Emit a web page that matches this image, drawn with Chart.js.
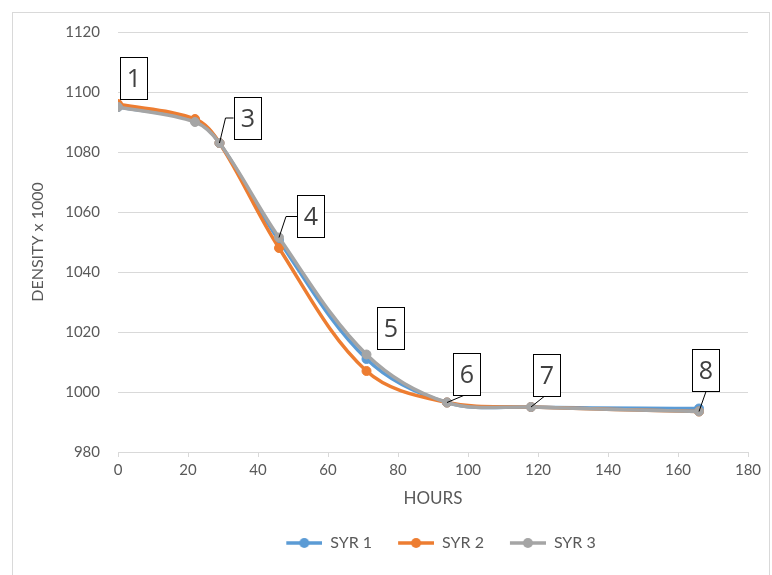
<!DOCTYPE html>
<html>
<head>
<meta charset="utf-8">
<script src="https://cdn.jsdelivr.net/npm/chart.js@4.4.0/dist/chart.umd.min.js"></script>
<style>
  html, body { margin: 0; padding: 0; background: #fff; }
  #wrap { width: 772px; height: 575px; }
</style>
</head>
<body>
<div id="wrap"><canvas id="densityChart" width="772" height="575"></canvas></div>
<script>
// readings
const hours = [0, 22, 29, 46, 71, 94, 118, 166];
const syr1 = [1095, 1090.5, 1083, 1050.5, 1011, 996.5, 995, 994.5];
const syr2 = [1096, 1091, 1083, 1048, 1007, 996.5, 995, 993.5];
const syr3 = [1095, 1090, 1083, 1051.5, 1012.5, 996.5, 995, 993.5];
const seriesNames = ['SYR 1', 'SYR 2', 'SYR 3'];
const xTicks = [0, 20, 40, 60, 80, 100, 120, 140, 160, 180];
const yTicks = [980, 1000, 1020, 1040, 1060, 1080, 1100, 1120];
const calloutText = ['1', '3', '4', '5', '6', '7', '8'];
const calloutIndex = [0, 2, 3, 4, 5, 6, 7];

const colors = ['#5B9BD5', '#ED7D31', '#A5A5A5'];
const textColor = '#595959';

// callout boxes, offsets from the marked point (px)
const calloutLayout = [
    { dx: 2, dy: -50, leader: null },
    { dx: 14, dy: -46, leader: [[0, 0], [6, -25], [14, -25]] },
    { dx: 18, dy: -43, leader: [[0, 0], [7, -21], [18, -21]] },
    { dx: 10, dy: -48, leader: null },
    { dx: 6, dy: -50, leader: [[0, 0], [19, -8]] },
    { dx: 2, dy: -53, leader: [[0, 0], [15, -12]] },
    { dx: -7, dy: -63, leader: [[0, 0], [7, -20]] }
];

function legendIcon(color) {
    const c = document.createElement('canvas');
    c.width = 52;
    c.height = 12;
    const g = c.getContext('2d');
    g.strokeStyle = color;
    g.lineWidth = 3.5;
    g.beginPath();
    g.moveTo(16, 6);
    g.lineTo(52, 6);
    g.stroke();
    g.fillStyle = color;
    g.beginPath();
    g.arc(34, 6, 5, 0, Math.PI * 2);
    g.fill();
    return c;
}

const toPoints = ys => hours.map((h, i) => ({ x: h, y: ys[i] }));

const frame = {
    id: 'frame',
    beforeDraw(chart) {
        const ctx = chart.ctx;
        ctx.save();
        ctx.fillStyle = '#fff';
        ctx.fillRect(0, 0, chart.width, chart.height);
        ctx.strokeStyle = '#d9d9d9';
        ctx.lineWidth = 1;
        ctx.strokeRect(12.5, 12.5, 757, 600);
        ctx.restore();
    }
};

const callouts = {
    id: 'callouts',
    afterDatasetsDraw(chart) {
        const ctx = chart.ctx;
        const xs = chart.scales.x, ys = chart.scales.y;
        ctx.save();
        calloutIndex.forEach((idx, k) => {
            const px = xs.getPixelForValue(hours[idx]);
            const py = ys.getPixelForValue(syr3[idx]);
            const lay = calloutLayout[k];
            ctx.strokeStyle = '#000';
            ctx.lineWidth = 1;
            if (lay.leader) {
                ctx.beginPath();
                lay.leader.forEach(([a, b], j) => {
                    if (j === 0) ctx.moveTo(px + a, py + b);
                    else ctx.lineTo(px + a, py + b);
                });
                ctx.stroke();
            }
            const bx = Math.round(px + lay.dx) + 0.5;
            const by = Math.round(py + lay.dy) + 0.5;
            ctx.fillStyle = '#fff';
            ctx.fillRect(bx, by, 27, 42);
            ctx.strokeRect(bx, by, 27, 42);
            ctx.fillStyle = '#404040';
            ctx.font = '25px "Open Sans", sans-serif';
            ctx.textAlign = 'center';
            ctx.textBaseline = 'middle';
            ctx.fillText(calloutText[k], bx + 13.5, by + 22);
        });
        ctx.restore();
    }
};

new Chart(document.getElementById('densityChart'), {
    type: 'line',
    data: {
        datasets: [syr1, syr2, syr3].map((ys, i) => ({
            label: seriesNames[i],
            data: toPoints(ys),
            borderColor: colors[i],
            backgroundColor: colors[i],
            pointBackgroundColor: colors[i],
            pointBorderColor: colors[i],
            pointStyle: 'circle',
            pointRadius: 4.5,
            pointBorderWidth: 1,
            borderWidth: 3.5,
            tension: 0.35,
            legendIcon: legendIcon(colors[i]),
            order: 3 - i
        }))
    },
    options: {
        responsive: false,
        animation: false,
        layout: { padding: { top: 32, right: 24, bottom: 14, left: 0 } },
        scales: {
            x: {
                type: 'linear',
                min: 0,
                max: 180,
                afterBuildTicks: s => { s.ticks = xTicks.map(v => ({ value: v })); },
                afterFit: s => { s.height = 73; },
                grid: { display: true, drawOnChartArea: false, drawTicks: true, tickLength: 5, color: '#d9d9d9' },
                border: { color: '#d9d9d9' },
                ticks: { color: textColor, padding: 4, font: { family: 'Lato', size: 15 }, maxRotation: 0 },
                title: { display: true, text: 'HOURS', color: textColor, font: { family: 'Lato', size: 17 }, padding: { top: 0, bottom: 16 } }
            },
            y: {
                min: 980,
                max: 1120,
                afterBuildTicks: s => { s.ticks = yTicks.map(v => ({ value: v })); },
                afterFit: s => { s.width = 118; },
                grid: { color: '#d9d9d9', drawTicks: false },
                border: { display: false },
                ticks: { color: textColor, padding: 18, font: { family: 'Lato', size: 15 }, callback: v => String(v) },
                title: { display: true, text: 'DENSITY x 1000', color: textColor, font: { family: 'Lato', size: 16 }, padding: { top: 28, bottom: 0 } }
            }
        },
        plugins: {
            legend: {
                position: 'bottom',
                fullSize: false,
                labels: {
                    usePointStyle: true,
                    pointStyleWidth: 52,
                    padding: 10,
                    color: textColor,
                    font: { family: 'Lato', size: 16 },
                    generateLabels: chart => chart.data.datasets.map((d, i) => ({
                        text: d.label,
                        pointStyle: d.legendIcon,
                        fillStyle: d.borderColor,
                        strokeStyle: d.borderColor,
                        fontColor: textColor,
                        lineWidth: 0,
                        datasetIndex: i,
                        hidden: false
                    }))
                }
            },
            tooltip: { enabled: false }
        }
    },
    plugins: [frame, callouts]
});
</script>
</body>
</html>
